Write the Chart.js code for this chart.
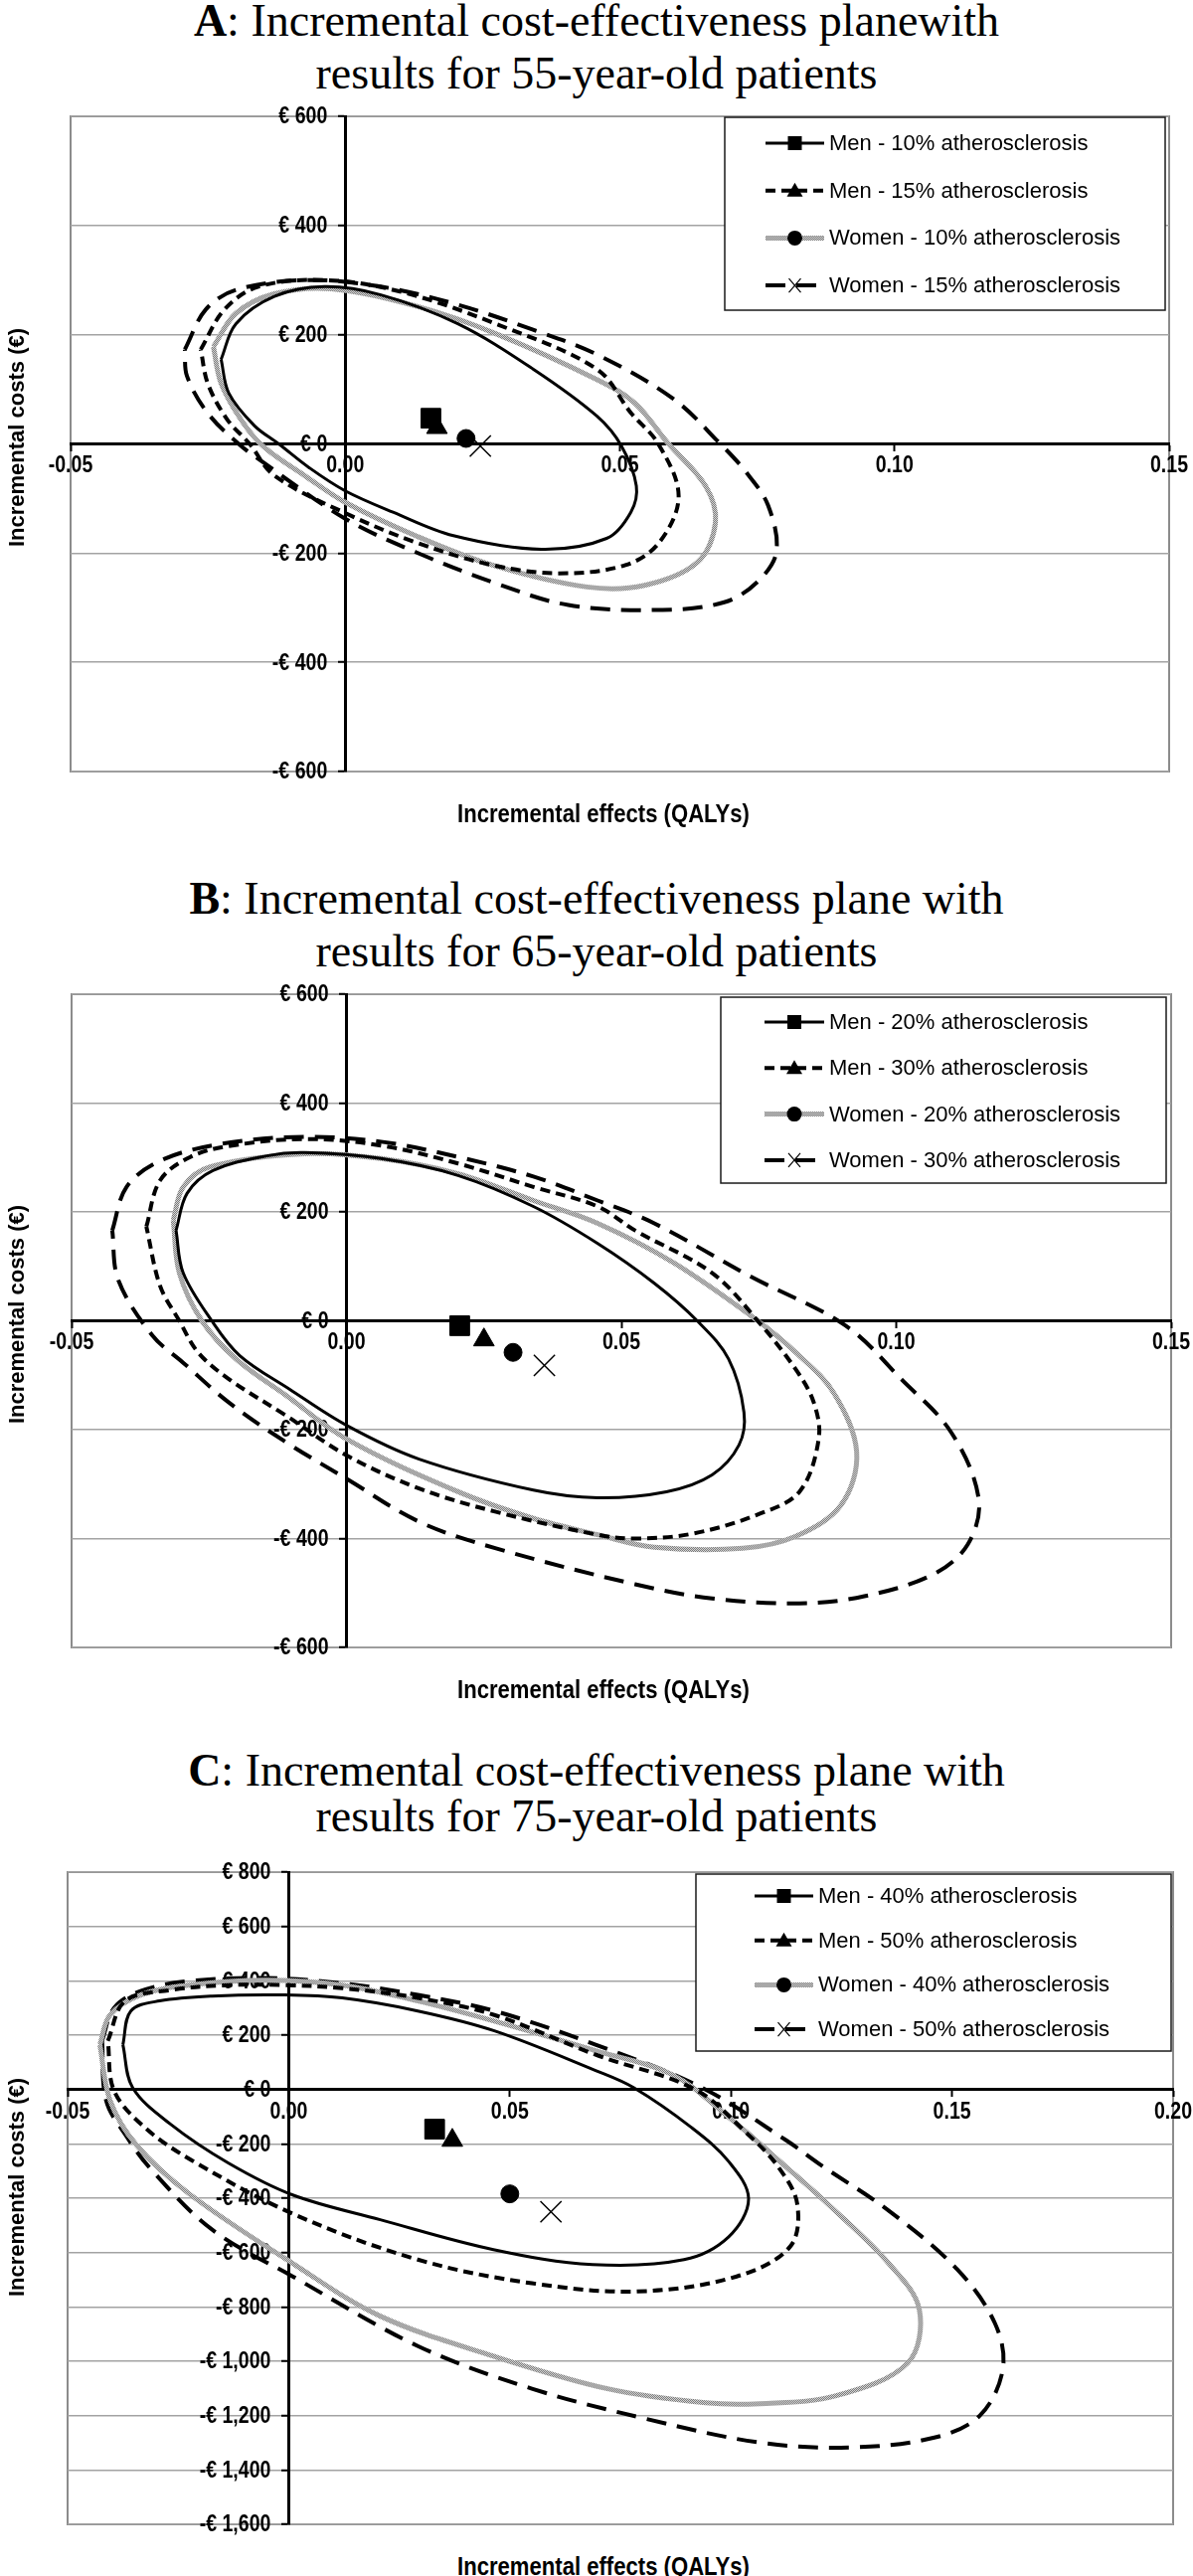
<!DOCTYPE html>
<html>
<head>
<meta charset="utf-8">
<script src="https://cdn.jsdelivr.net/npm/chart.js@4.4.1/dist/chart.umd.min.js"></script>
<style>
  html, body { margin: 0; padding: 0; background: #fff; }
  #page { position: relative; width: 1200px; height: 2591px; overflow: hidden; }
  canvas { position: absolute; left: 0; }
  .ttl { position: absolute; left: 0; width: 1200px; text-align: center; white-space: nowrap;
         font-family: "Liberation Serif", "Times New Roman", serif; font-size: 46px; line-height: 1; color: #000; }
  .xt { position: absolute; left: 307px; width: 600px; text-align: center; line-height: 1; white-space: nowrap;
        font: bold 26px "Liberation Sans", Arial, sans-serif; transform: scaleX(0.85); }
  .yt { position: absolute; left: -183px; width: 400px; height: 26px; line-height: 26px; text-align: center;
        font: bold 22px "Liberation Sans", Arial, sans-serif; transform: rotate(-90deg); }
</style>
</head>
<body>
<div id="page">
  <div class="ttl" style="top:-2px"><b>A</b>: Incremental cost-effectiveness planewith</div>
  <div class="ttl" style="top:51px">results for 55-year-old patients</div>
  <canvas id="chartA" width="1200" height="715" style="top:90px"></canvas>
  <div class="yt" style="top:427px">Incremental costs (€)</div>
  <div class="xt" style="top:803px">Incremental effects (QALYs)</div>

  <div class="ttl" style="top:881px"><b>B</b>: Incremental cost-effectiveness plane with</div>
  <div class="ttl" style="top:934px">results for 65-year-old patients</div>
  <canvas id="chartB" width="1200" height="710" style="top:975px"></canvas>
  <div class="yt" style="top:1309px">Incremental costs (€)</div>
  <div class="xt" style="top:1684px">Incremental effects (QALYs)</div>

  <div class="ttl" style="top:1758px"><b>C</b>: Incremental cost-effectiveness plane with</div>
  <div class="ttl" style="top:1804px">results for 75-year-old patients</div>
  <canvas id="chartC" width="1200" height="706" style="top:1858px"></canvas>
  <div class="yt" style="top:2187px">Incremental costs (€)</div>
  <div class="xt" style="top:2566px">Incremental effects (QALYs)</div>
</div>

<script>
// ---- A: 55-year-old patients (QALYs, euro) ----
const aLabels = ['Men - 10% atherosclerosis', 'Men - 15% atherosclerosis',
                 'Women - 10% atherosclerosis', 'Women - 15% atherosclerosis'];
const aMen10 = [[-0.0226,155],[-0.0199,220],[-0.0129,270],[-0.0038,288],[0.0065,273],[0.0205,220],[0.0342,137],
  [0.0458,51],[0.0503,-4],[0.053,-77],[0.052,-125],[0.0476,-173],[0.0357,-193],[0.0197,-168],[0.0087,-125],
  [0,-86],[-0.0065,-44],[-0.0121,0],[-0.0165,33],[-0.0212,93],[-0.0226,155]];
const aMen15 = [[-0.0263,173],[-0.022,246],[-0.0158,288],[-0.0038,300],[0.010,279],[0.0274,220],[0.0458,137],
  [0.052,57],[0.057,0],[0.0607,-95],[0.0572,-180],[0.051,-222],[0.039,-237],[0.0268,-222],[0.0128,-180],
  [0.0003,-128],[-0.0129,-58],[-0.0174,0],[-0.0215,45],[-0.025,110],[-0.0263,173]];
const aWomen10 = [[-0.024,178],[-0.0199,239],[-0.0129,275],[-0.0025,284],[0.0134,251],[0.0274,202],[0.0458,118],
  [0.0527,75],[0.0587,2],[0.0656,-77],[0.0674,-144],[0.0641,-217],[0.0545,-259],[0.044,-262],[0.0268,-222],
  [0.0128,-168],[0,-107],[-0.0074,-58],[-0.0149,-5],[-0.019,45],[-0.0226,111],[-0.024,178]];
const aWomen15 = [[-0.0292,173],[-0.0254,246],[-0.0199,282],[-0.0074,300],[0.0065,288],[0.0205,255],[0.0342,209],
  [0.0458,164],[0.0598,82],[0.0683,0],[0.073,-52],[0.077,-113],[0.0785,-198],[0.075,-253],[0.069,-290],
  [0.0578,-304],[0.0406,-295],[0.0268,-253],[0.0128,-198],[0,-137],[-0.0149,-34],[-0.0194,0],[-0.025,56],
  [-0.0288,124],[-0.0292,173]];
const aCentres = [[0.0156,47],[0.0167,30],[0.0220,10],[0.0246,-4]];

// ---- B: 65-year-old patients ----
const bLabels = ['Men - 20% atherosclerosis', 'Men - 30% atherosclerosis',
                 'Women - 20% atherosclerosis', 'Women - 30% atherosclerosis'];
const bMen20 = [[-0.031,166],[-0.029,234],[-0.0243,276],[-0.0145,303],[-0.0076,309],[0.0063,298],[0.0203,267],
  [0.034,210],[0.0457,142],[0.056,69],[0.0638,0],[0.0695,-70],[0.0723,-168],[0.0714,-228],[0.0665,-283],
  [0.0582,-314],[0.0457,-325],[0.034,-311],[0.0132,-254],[0,-192],[-0.0103,-126],[-0.0194,-64],[-0.0245,0],
  [-0.0297,88],[-0.031,166]];
const bMen30 = [[-0.0364,173],[-0.0339,258],[-0.0284,301],[-0.0214,321],[-0.0076,334],[0.0063,322],[0.0203,289],
  [0.034,246],[0.0457,210],[0.0525,166],[0.0665,88],[0.0748,0],[0.0817,-89],[0.085,-150],[0.0859,-217],
  [0.0824,-314],[0.0748,-356],[0.063,-391],[0.0525,-400],[0.0457,-393],[0.0272,-351],[0.0132,-308],[0,-247],
  [-0.011,-174],[-0.0214,-107],[-0.027,-58],[-0.0304,0],[-0.0339,64],[-0.0364,173]];
const bWomen20 = [[-0.0315,185],[-0.0297,246],[-0.0248,283],[-0.0076,307],[0.0063,298],[0.0203,270],[0.034,221],
  [0.0457,179],[0.0596,106],[0.0748,0],[0.0817,-58],[0.0886,-132],[0.0928,-241],[0.090,-338],[0.0817,-396],
  [0.0721,-418],[0.056,-416],[0.0457,-393],[0.034,-363],[0.0203,-314],[0,-217],[-0.011,-137],[-0.020,-71],
  [-0.0263,0],[-0.0304,88],[-0.0315,185]];
const bWomen30 = [[-0.0426,166],[-0.040,246],[-0.0339,294],[-0.0228,325],[-0.0076,338],[0.0063,329],[0.0203,301],
  [0.034,265],[0.0457,221],[0.056,179],[0.0734,82],[0.0908,-9],[0.101,-108],[0.110,-205],[0.115,-327],
  [0.113,-411],[0.1067,-466],[0.0942,-506],[0.0824,-519],[0.0665,-510],[0.0525,-484],[0.0272,-418],
  [0.0132,-369],[0,-290],[-0.011,-223],[-0.0214,-150],[-0.0297,-77],[-0.0353,-27],[-0.0415,75],[-0.0426,166]];
const bCentres = [[0.0206,-9],[0.025,-35],[0.0303,-58],[0.036,-82]];

// ---- C: 75-year-old patients ----
const cLabels = ['Men - 40% atherosclerosis', 'Men - 50% atherosclerosis',
                 'Women - 40% atherosclerosis', 'Women - 50% atherosclerosis'];
const cMen40 = [[-0.0375,165],[-0.0357,289],[-0.0292,326],[-0.0173,344],[-0.0009,348],[0.0121,337],[0.0292,289],
  [0.0465,216],[0.0694,70],[0.078,7],[0.091,-139],[0.0995,-265],[0.104,-402],[0.0995,-542],[0.0894,-626],
  [0.0687,-644],[0.0463,-589],[0.0207,-479],[0.0009,-388],[-0.0137,-270],[-0.0267,-128],[-0.0353,7],[-0.0375,165]];
const cMen50 = [[-0.0409,179],[-0.037,326],[-0.0267,366],[-0.0137,384],[-0.0009,384],[0.0121,373],[0.0292,337],
  [0.0465,274],[0.0694,128],[0.0919,0],[0.1038,-164],[0.1107,-285],[0.115,-421],[0.1134,-578],[0.1013,-688],
  [0.079,-743],[0.055,-713],[0.0292,-626],[0.0009,-457],[-0.022,-260],[-0.0326,-139],[-0.0395,-4],[-0.0409,179]];
const cWomen40 = [[-0.0427,165],[-0.0404,274],[-0.0335,348],[-0.0225,384],[-0.0052,402],[0.0121,384],[0.0292,326],
  [0.0465,252],[0.0694,143],[0.0867,55],[0.0995,-102],[0.1125,-285],[0.1225,-430],[0.1357,-640],[0.1426,-809],
  [0.14,-1006],[0.1238,-1127],[0.1065,-1156],[0.0943,-1153],[0.0721,-1101],[0.0463,-981],[0.0207,-834],
  [0.0009,-640],[-0.0225,-384],[-0.0344,-205],[-0.0404,-40],[-0.0427,165]];
const cWomen50 = [[-0.0422,179],[-0.0395,300],[-0.0335,362],[-0.0225,399],[-0.0052,410],[0.0121,391],[0.0292,348],
  [0.0465,289],[0.0694,165],[0.0934,7],[0.1125,-187],[0.120,-274],[0.136,-450],[0.1512,-662],[0.1597,-860],
  [0.1615,-1028],[0.1563,-1200],[0.146,-1281],[0.1271,-1317],[0.1065,-1299],[0.0806,-1211],[0.055,-1101],
  [0.0292,-944],[0.0009,-688],[-0.0173,-516],[-0.031,-296],[-0.037,-165],[-0.0413,-40],[-0.0422,179]];
const cCentres = [[0.033,-146],[0.037,-187],[0.050,-384],[0.0593,-450]];

Chart.defaults.font.family = '"Liberation Sans", Arial, Helvetica, sans-serif';
Chart.defaults.color = '#000';

function makeStipple() {
  const c = document.createElement('canvas');
  c.width = 2; c.height = 2;
  const g = c.getContext('2d');
  g.fillStyle = '#d4d4d4'; g.fillRect(0, 0, 2, 2);
  g.fillStyle = '#7c7c7c'; g.fillRect(0, 0, 1, 1); g.fillRect(1, 1, 1, 1);
  return g.createPattern(c, 'repeat');
}

const SERIES = [
  { color: '#000', width: 3, dash: [],       point: 'rect',     radius: 14 },
  { color: '#000', width: 4, dash: [10, 6],  point: 'triangle', radius: 12 },
  { color: makeStipple(), width: 5, dash: [], point: 'circle',  radius: 9 },
  { color: '#000', width: 4, dash: [20, 11], point: 'crossRot', radius: 15 }
];

const euro = v => (v < 0 ? '-' : '') + '€ ' + Math.abs(v).toLocaleString('en-US');

function buildDatasets(labels, rings, centres) {
  const sets = rings.map((ring, i) => ({
    label: labels[i],
    data: ring.map(([x, y]) => ({ x, y })),
    showLine: true, fill: false, tension: 0.35,
    borderColor: SERIES[i].color, borderWidth: SERIES[i].width, borderDash: SERIES[i].dash,
    pointRadius: 0, pointHoverRadius: 0, order: 2
  }));
  centres.forEach(([x, y], i) => sets.push({
    label: labels[i] + ' (mean)',
    data: [{ x, y }],
    showLine: false,
    pointStyle: SERIES[i].point, pointRadius: SERIES[i].radius, pointHoverRadius: SERIES[i].radius,
    pointBackgroundColor: '#000', pointBorderColor: '#000',
    pointBorderWidth: SERIES[i].point === 'crossRot' ? 1.5 : 1,
    order: 1
  }));
  return sets;
}

// tick labels are drawn by axisLabels (narrow, next to the crossing axes)
function makeScales(xRange, yRange) {
  return {
    x: {
      type: 'linear', min: xRange[0], max: xRange[1], position: { y: 0 },
      ticks: { stepSize: 0.05, autoSkip: false, display: false },
      grid: { drawOnChartArea: false, drawTicks: true, tickLength: 6, tickColor: '#000', tickWidth: 2 },
      border: { color: '#000', width: 3 }
    },
    y: {
      type: 'linear', min: yRange[0], max: yRange[1], position: { x: 0 },
      ticks: { stepSize: 200, autoSkip: false, display: false },
      grid: { color: '#a3a3a3', lineWidth: 1.5, tickColor: '#000', tickLength: 6, tickWidth: 2 },
      border: { color: '#000', width: 3 }
    }
  };
}

const plotFrame = {
  id: 'plotFrame',
  beforeDraw(chart) {
    const { ctx, chartArea: a } = chart;
    ctx.save();
    ctx.strokeStyle = '#8c8c8c';
    ctx.lineWidth = 2;
    ctx.strokeRect(a.left, a.top, a.right - a.left, a.bottom - a.top);
    ctx.restore();
  }
};

function narrowText(ctx, text, x, y) {
  ctx.save();
  ctx.translate(x, y);
  ctx.scale(0.85, 1);
  ctx.fillText(text, 0, 0);
  ctx.restore();
}

const axisLabels = {
  id: 'axisLabels',
  beforeDatasetsDraw(chart) {
    const { ctx, scales: { x, y } } = chart;
    const x0 = x.getPixelForValue(0), y0 = y.getPixelForValue(0);
    ctx.save();
    ctx.font = 'bold 23px "Liberation Sans", Arial, sans-serif';
    ctx.fillStyle = '#000';
    ctx.textAlign = 'right';
    ctx.textBaseline = 'middle';
    y.ticks.forEach(t => narrowText(ctx, euro(t.value), x0 - 18, y.getPixelForValue(t.value) + 1));
    ctx.textAlign = 'center';
    ctx.textBaseline = 'top';
    x.ticks.forEach(t => narrowText(ctx, t.value.toFixed(2), x.getPixelForValue(t.value), y0 + 11));
    ctx.restore();
  }
};

function drawMark(ctx, style, x, y) {
  ctx.fillStyle = '#000';
  ctx.strokeStyle = '#000';
  ctx.beginPath();
  if (style === 'rect') {
    ctx.fillRect(x - 7, y - 7, 14, 14);
  } else if (style === 'triangle') {
    ctx.moveTo(x, y - 8); ctx.lineTo(x + 8, y + 6); ctx.lineTo(x - 8, y + 6);
    ctx.closePath(); ctx.fill();
  } else if (style === 'circle') {
    ctx.arc(x, y, 7.5, 0, Math.PI * 2); ctx.fill();
  } else {
    ctx.lineWidth = 1.2;
    ctx.moveTo(x - 6, y - 7); ctx.lineTo(x + 6, y + 7);
    ctx.moveTo(x + 6, y - 7); ctx.lineTo(x - 6, y + 7);
    ctx.stroke();
  }
}

// legend box drawn inside the plot, like the original Excel one
const boxLegend = {
  id: 'boxLegend',
  afterDraw(chart, args, o) {
    const ctx = chart.ctx;
    const top = o.top - o.offset;
    const w = o.right - o.left, h = o.bottom - o.top;
    ctx.save();
    ctx.fillStyle = '#fff';
    ctx.fillRect(o.left, top, w, h);
    ctx.lineWidth = 1.5;
    ctx.strokeStyle = '#1a1a1a';
    ctx.strokeRect(o.left, top, w, h);
    ctx.font = '22px "Liberation Sans", Arial, sans-serif';
    ctx.textBaseline = 'middle';
    ctx.textAlign = 'left';
    SERIES.forEach((s, i) => {
      const y = top + o.first + i * o.gap;
      ctx.beginPath();
      ctx.setLineDash(s.dash);
      ctx.lineWidth = s.width;
      ctx.strokeStyle = s.color;
      ctx.moveTo(o.lineFrom, y);
      ctx.lineTo(o.lineTo, y);
      ctx.stroke();
      ctx.setLineDash([]);
      drawMark(ctx, s.point, (o.lineFrom + o.lineTo) / 2, y);
      ctx.fillStyle = '#000';
      ctx.fillText(chart.data.datasets[i].label, o.lineTo + 5, y + 1);
    });
    ctx.restore();
  }
};

function fitArea(chart, box) {
  for (let k = 0; k < 3; k++) {
    const a = chart.chartArea, p = chart.options.layout.padding;
    p.left += box.left - a.left;
    p.top += box.top - a.top;
    p.right += a.right - box.right;
    p.bottom += a.bottom - box.bottom;
    chart.update();
  }
}

function makeChart(id, panel, labels, rings, centres) {
  const canvas = document.getElementById(id);
  const off = panel.canvasTop;
  const box = { left: panel.area.left, right: panel.area.right,
                top: panel.area.top - off, bottom: panel.area.bottom - off };
  const chart = new Chart(canvas, {
    type: 'scatter',
    data: { datasets: buildDatasets(labels, rings, centres) },
    options: {
      responsive: false, animation: false, events: [],
      layout: { padding: { left: box.left, right: canvas.width - box.right,
                           top: box.top, bottom: canvas.height - box.bottom } },
      plugins: {
        legend: { display: false },
        tooltip: { enabled: false },
        boxLegend: Object.assign({ offset: off }, panel.legend)
      },
      scales: makeScales(panel.xRange, panel.yRange)
    },
    plugins: [plotFrame, axisLabels, boxLegend]
  });
  fitArea(chart, box);
  return chart;
}

makeChart('chartA', {
  canvasTop: 90, area: { left: 71, right: 1176, top: 117, bottom: 776 },
  xRange: [-0.05, 0.15], yRange: [-600, 600],
  legend: { left: 729, right: 1172, top: 118, bottom: 312, first: 26, gap: 47.7, lineFrom: 770, lineTo: 829 }
}, aLabels, [aMen10, aMen15, aWomen10, aWomen15], aCentres);

makeChart('chartB', {
  canvasTop: 975, area: { left: 72, right: 1178, top: 1000, bottom: 1657 },
  xRange: [-0.05, 0.15], yRange: [-600, 600],
  legend: { left: 725, right: 1173, top: 1003, bottom: 1190, first: 25, gap: 46.3, lineFrom: 769, lineTo: 829 }
}, bLabels, [bMen20, bMen30, bWomen20, bWomen30], bCentres);

makeChart('chartC', {
  canvasTop: 1858, area: { left: 68, right: 1180, top: 1883, bottom: 2539 },
  xRange: [-0.05, 0.20], yRange: [-1600, 800],
  legend: { left: 700, right: 1178, top: 1885, bottom: 2063, first: 22, gap: 44.7, lineFrom: 759, lineTo: 818 }
}, cLabels, [cMen40, cMen50, cWomen40, cWomen50], cCentres);
</script>
</body>
</html>
